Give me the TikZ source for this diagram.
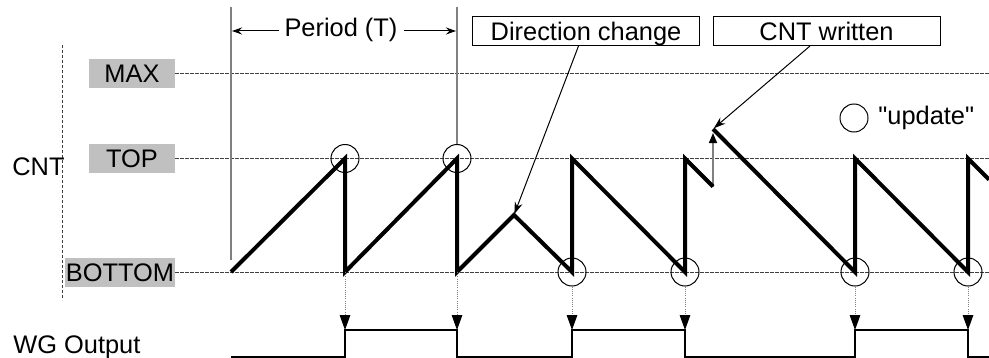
\documentclass[tikz,border=0pt]{standalone}
\usepackage{fontspec}
\setmainfont{Liberation Sans}[Ligatures=TeXOff]
\usetikzlibrary{arrows.meta}
\definecolor{lblgray}{HTML}{C0C0C0}
\definecolor{linegray}{HTML}{808080}
\definecolor{dashgray}{HTML}{404040}
\begin{document}
\begin{tikzpicture}[x=0.5pt,y=-0.5pt,
  txt/.style={font=\fontsize{12.7}{15}\selectfont, inner sep=0pt},
  lvl/.style={txt, fill=lblgray, minimum height=14.5pt, text height=9.1pt, text depth=0pt},
  callout/.style={txt, draw, line width=0.5pt, minimum width=113.5pt, minimum height=14.5pt, text height=9.1pt, text depth=0pt},
  guide/.style={dashgray, line width=0.5pt, dash pattern=on 1.6pt off 0.9pt},
  saw/.style={line width=2pt},
  wg/.style={line width=1pt},
  upd/.style={circle, draw, line width=0.5pt, minimum size=14pt, inner sep=0pt},
  vline/.style={linegray, line width=0.75pt},
  dotarr/.style={linegray, line width=0.5pt, dash pattern=on 0.5pt off 0.6pt, -{Triangle[length=7.5pt,width=5.3pt,black]}},
  lead/.style={line width=0.5pt, -{Stealth[length=6pt,width=4pt]}, shorten >=0.5pt},
  warr/.style={linegray, line width=0.75pt, -{Triangle[length=5pt,width=4pt,black]}, shorten >=2pt},
  parr/.style={line width=0.5pt, -{Stealth[length=5pt,width=3.5pt]}},
]
\useasboundingbox (0,0) rectangle (989,358);

% level labels
\node[lvl, minimum width=43pt] (maxl) at (132,73.5) {MAX};
\node[lvl, minimum width=43pt] (topl) at (132,158.5) {TOP};
\node[lvl, minimum width=55pt] (botl) at (120,272) {BOTTOM};
\coordinate (maxR) at (989,73.5);
\coordinate (topR) at (989,158.5);
\coordinate (botR) at (989,272);
\draw[guide] (maxl.east) -- (maxR);
\draw[guide] (topl.east) -- (topR);
\draw[guide] (botl.east) -- (botR);

% CNT axis
\coordinate (cntT) at (62,45);
\coordinate (cntB) at (62,300);
\draw[guide] (cntT) -- (cntB);
\node[txt, anchor=base west] (cnt) at (12,175) {CNT};
\node[txt, anchor=base west] (wgl) at (13,353) {WG Output};

% sawtooth coordinates
\coordinate (s0) at (231,272);
\coordinate (p1) at (345,158.5);
\coordinate (b1) at (345,272);
\coordinate (p2) at (457,158.5);
\coordinate (b2) at (457,272);
\coordinate (d)  at (514,215);
\coordinate (b3) at (572,272);
\coordinate (p3) at (572,158.5);
\coordinate (b4) at (685,272);
\coordinate (p4) at (685,158.5);
\coordinate (w)  at (713,186.5);
\coordinate (w2) at (713,129);
\coordinate (b5) at (855,272);
\coordinate (p5) at (855,158.5);
\coordinate (b6) at (968,272);
\coordinate (p6) at (968,158.5);
\coordinate (e)  at (989,179.5);

% update circles
\node[upd] (c1) at (p1) {};
\node[upd] (c2) at (p2) {};
\node[upd] (c3) at (b3) {};
\node[upd] (c4) at (b4) {};
\node[upd] (c5) at (b5) {};
\node[upd] (c6) at (b6) {};

% period lines
\coordinate (v1t) at (231,7);
\coordinate (v1b) at (231,260);
\coordinate (v2t) at (457,7);
\draw[vline] (v1t) -- (v1b);
\draw[vline] (v2t) -- (c2.north);

\node[txt, anchor=base] (per) at (341,37) {Period (T)};
\coordinate (pl) at (232,31);
\coordinate (pr) at (456,31);
\draw[parr, shorten <=2.5pt] (per.west |- pl) -- (pl);
\draw[parr, shorten <=3pt] (per.east |- pr) -- (pr);

% callouts
\node[callout] (dc) at (586,31) {Direction change};
\node[callout] (cw) at (826.5,31) {CNT written};

% write arrow
\draw[warr] (w) -- (w2);

% sawtooth
\draw[saw] (s0) -- (p1) -- (b1) -- (p2) -- (b2) -- (d) -- (b3) -- (p3) -- (b4) -- (p4) -- (w);
\draw[saw] (w2) -- (b5) -- (p5) -- (b6) -- (p6) -- (e);

% leaders
\draw[lead] ([xshift=-3.75pt]dc.south) -- (d);
\draw[lead] ([xshift=-8.25pt]cw.south) -- (w2);

% legend
\node[upd] (leg) at (854,118) {};
\node[txt, anchor=base west] (legt) at (878,125) {"update"};

% WG output
\coordinate (g0) at (231,356.5);
\coordinate (g1l) at (345,356.5); \coordinate (g1h) at (345,330);
\coordinate (g2h) at (457,330); \coordinate (g2l) at (457,356.5);
\coordinate (g3l) at (572,356.5); \coordinate (g3h) at (572,330);
\coordinate (g4h) at (685,330); \coordinate (g4l) at (685,356.5);
\coordinate (g5l) at (855,356.5); \coordinate (g5h) at (855,330);
\coordinate (g6h) at (968,330); \coordinate (g6l) at (968,356.5);
\coordinate (gE) at (989,356.5);
\draw[wg] (g0) -- (g1l) -- (g1h) -- (g2h) -- (g2l) -- (g3l) -- (g3h) -- (g4h) -- (g4l) -- (g5l) -- (g5h) -- (g6h) -- (g6l) -- (gE);

% dotted arrows
\draw[dotarr] (b1) -- (g1h);
\draw[dotarr] (b2) -- (g2h);
\draw[dotarr] (c3.south) -- (g3h);
\draw[dotarr] (c4.south) -- (g4h);
\draw[dotarr] (c5.south) -- (g5h);
\draw[dotarr] (c6.south) -- (g6h);
\end{tikzpicture}
\end{document}
